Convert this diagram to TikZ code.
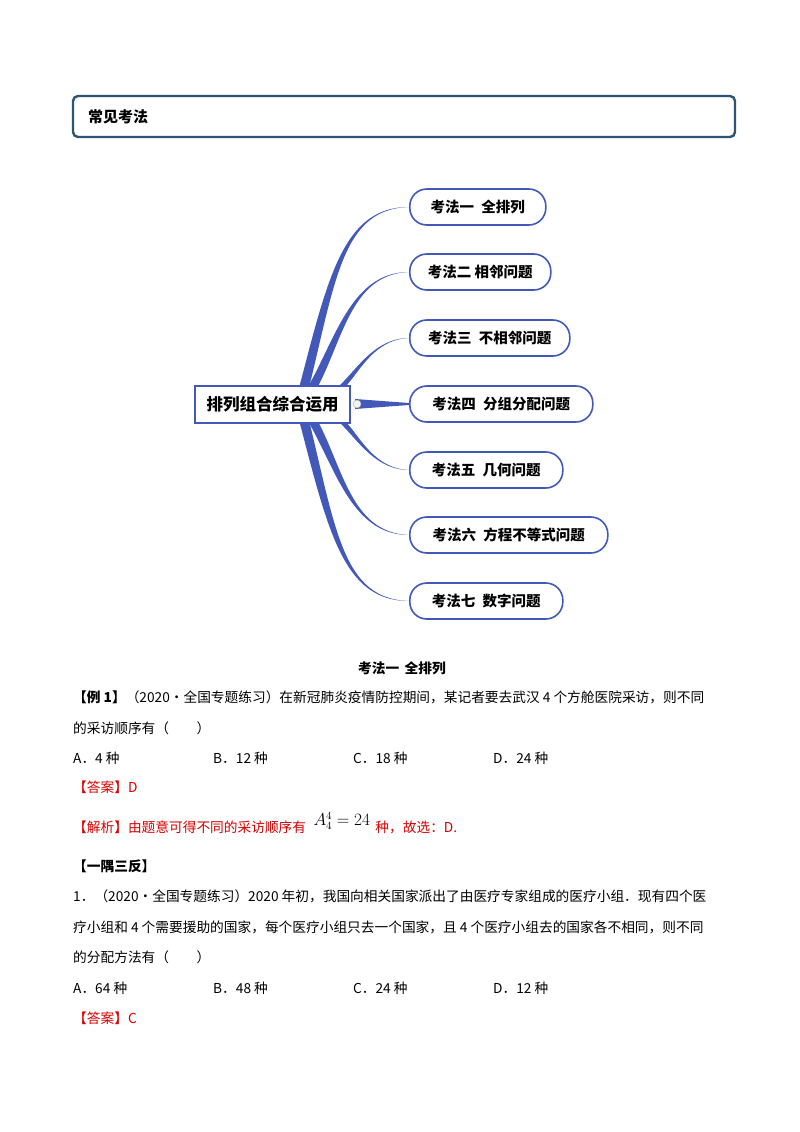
\documentclass[tikz,border=0pt]{standalone}
\usepackage{fontspec}
\setmainfont{Noto Sans CJK SC}
\begin{document}
\begin{tikzpicture}[x=1pt,y=-1pt,
  br/.style={fill=brc,draw=none},
  child/.style={draw=brc,line width=1.6pt,rounded corners=17pt,minimum height=36pt,anchor=west,font=\fontsize{14.5}{14.5}\selectfont\bfseries,inner xsep=18pt},
  txt/.style={anchor=west,inner sep=0,font=\fontsize{13.7}{14}\selectfont},
  red/.style={text=red!85!black}]
\definecolor{brc}{HTML}{4259B9}
\definecolor{hdr}{HTML}{2F5374}
\useasboundingbox (0,0) rectangle (800,1132);
\fill[white] (0,0) rectangle (800,1132);
% header
\draw[hdr,line width=2.4pt,rounded corners=5pt] (73,96) rectangle (735,137);
\node[txt,font=\fontsize{15}{15}\selectfont\bfseries] (hd) at (88,117) {常见考法};
% branches
\foreach \cy/\sx/\sy in {207/303/392, 272/310/392, 338/318/392}{
  \fill[brc] (\sx-5,\sy) .. controls (\sx+25,\cy+70) and (\sx+40,\cy) .. (409,\cy)
    .. controls (\sx+40,\cy+2) and (\sx+33,\cy+70) .. (\sx+5,\sy) -- cycle;}
\foreach \cy/\sx/\sy in {470/318/416, 535/310/416, 601/303/416}{
  \fill[brc] (\sx-5,\sy) .. controls (\sx+25,\cy-70) and (\sx+40,\cy) .. (409,\cy)
    .. controls (\sx+40,\cy-2) and (\sx+33,\cy-70) .. (\sx+5,\sy) -- cycle;}
\fill[brc] (355,399) -- (409,403) -- (409,405) -- (355,409) -- cycle;
% root
\node[draw=brc,fill=white,line width=2.6pt,minimum width=155pt,minimum height=37pt,font=\fontsize{16.5}{16.5}\selectfont\bfseries,inner sep=0] (root) at (272.5,404.5) {排列组合综合运用};
\draw[gray!60,fill=gray!10] (357,404) circle (4pt);
% children
\node[child,fill=white,minimum width=136pt] (c1) at (409,207) {考法一\enspace 全排列};
\node[child,fill=white,minimum width=141pt] (c2) at (409,272) {考法二 相邻问题};
\node[child,fill=white,minimum width=160pt] (c3) at (409,338) {考法三\enspace 不相邻问题};
\node[child,fill=white,minimum width=183pt] (c4) at (409,404) {考法四\enspace 分组分配问题};
\node[child,fill=white,minimum width=153pt] (c5) at (409,470) {考法五\enspace 几何问题};
\node[child,fill=white,minimum width=198pt] (c6) at (409,535) {考法六\enspace 方程不等式问题};
\node[child,fill=white,minimum width=153pt] (c7) at (409,601) {考法七\enspace 数字问题};
% text
\node[font=\fontsize{13.7}{14}\selectfont\bfseries] (t0) at (402,668) {考法一\, 全排列};
\node[txt] (l1) at (73,697) {\textbf{【例 1】}（2020·全国专题练习）在新冠肺炎疫情防控期间，某记者要去武汉 4 个方舱医院采访，则不同};
\node[txt] (l2) at (73,728) {的采访顺序有（\qquad ）};
\node[txt] (a1) at (73,758) {A．4 种};
\node[txt] (b1) at (213,758) {B．12 种};
\node[txt] (cc1) at (353,758) {C．18 种};
\node[txt] (d1) at (493,758) {D．24 种};
\node[txt,red] (an1) at (73,787) {【答案】D};
\node[txt,red] (jx) at (73,827) {【解析】由题意可得不同的采访顺序有};
\node[anchor=west,inner sep=0,font=\fontsize{16}{16}\selectfont] (fm) at ([xshift=7pt,yshift=6pt]jx.east) {$A_4^4=24$};
\node[txt,red] (jx2) at ([xshift=5pt]fm.east |- jx) {种，故选：\textit{D}.};
\node[txt] (ys) at (73,866) {\textbf{【一隅三反】}};
\node[txt] (m1) at (73,896) {1．（2020·全国专题练习）2020 年初，我国向相关国家派出了由医疗专家组成的医疗小组．现有四个医};
\node[txt] (m2) at (73,927) {疗小组和 4 个需要援助的国家，每个医疗小组只去一个国家，且 4 个医疗小组去的国家各不相同，则不同};
\node[txt] (m3) at (73,957) {的分配方法有（\qquad ）};
\node[txt] (a2) at (73,988) {A．64 种};
\node[txt] (b2) at (213,988) {B．48 种};
\node[txt] (cc2) at (353,988) {C．24 种};
\node[txt] (d2) at (493,988) {D．12 种};
\node[txt,red] (an2) at (73,1018) {【答案】C};
\end{tikzpicture}
\end{document}
